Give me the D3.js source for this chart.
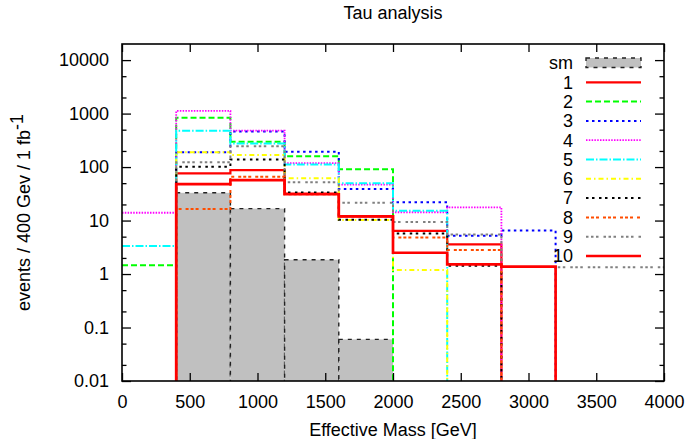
<!DOCTYPE html>
<html lang="en">
  <head>
    <meta charset="UTF-8">
    <title>Tau analysis</title>
    <script src="https://cdn.jsdelivr.net/npm/d3@7"></script>
    <style>
      body { margin: 0; background: #fff; }
      svg text { font-family: "Liberation Sans", Arial, sans-serif; font-size: 18px; fill: #000; }
      .axis line { stroke: #000; stroke-width: 1.3; }
      .axis path { display: none; }
    </style>
  </head>
  <body>
    <svg id="chart" width="691" height="439"></svg>

    <script>
      // bin edges (GeV) and events per bin
      var binEdges = [0, 400, 800, 1200, 1600, 2000, 2400, 2800, 3200, 3600, 4000];

      var sm  = [0, 33, 16.7, 1.85, 0.06, 0, 0, 0, 0, 0];
      var s1  = [0, 76, 88, 32, 12, 6.4, 3.6, 0, 0, 0];
      var s2  = [1.46, 835, 298, 160, 91, 0, 0, 0, 0, 0];
      var s3  = [0, 190, 460, 194, 39, 22, 5.2, 6.5, 0, 0];
      var s4  = [14, 1119, 480, 118, 47, 14.3, 17.7, 0, 0, 0];
      var s5  = [3.34, 480, 275, 112, 50, 15.3, 0, 0, 0, 0];
      var s6  = [0, 190, 168, 62, 10.2, 1.19, 0, 0, 0, 0];
      var s7  = [0, 101, 139, 33.6, 10.3, 5.7, 1.43, 0, 0, 0];
      var s8  = [0, 16.4, 66, 31, 12, 4.8, 2.8, 0, 0, 0];
      var s9  = [0, 123, 245, 52, 21.6, 9.4, 5.5, 1.36, 1.34, 1.34];
      var s10 = [0, 48, 57, 31, 12, 2.5, 1.52, 1.37, 0, 0];

      var seriesNames = ["1", "2", "3", "4", "5", "6", "7", "8", "9", "10"];
      var xTicks = [0, 500, 1000, 1500, 2000, 2500, 3000, 3500, 4000];
      var yTicks = [0.01, 0.1, 1, 10, 100, 1000, 10000];
      var yMinor = [0.02, 0.05, 0.2, 0.5, 2, 5, 20, 50, 200, 500, 2000, 5000];

      var series = [s1, s2, s3, s4, s5, s6, s7, s8, s9, s10];
      var styles = [
        { color: "#ff0000", dash: null, w: 2.2 },
        { color: "#00ff00", dash: "6,3", w: 2 },
        { color: "#0000ff", dash: "2.5,3.5", w: 2 },
        { color: "#ff00ff", dash: "1.5,1.3", w: 1.8 },
        { color: "#00ffff", dash: "8,2,1.5,2", w: 2 },
        { color: "#ffff00", dash: "5,3,1.5,3", w: 2 },
        { color: "#000000", dash: "2.5,3.5,2.5,4.5", w: 2 },
        { color: "#ff4d00", dash: "3,2,3,2,3,4", w: 2 },
        { color: "#808080", dash: "2.5,2.5,2.5,2.5,2.5,5", w: 2 },
        { color: "#ff0000", dash: null, w: 2.7 }
      ];

      var svg = d3.select("#chart");
      var pLeft = 122, pRight = 664, pTop = 44, pBottom = 381;

      var x = d3.scaleLinear().domain([0, 4000]).range([pLeft, pRight]);
      var y = d3.scaleLog().domain([0.01, 20000]).range([pBottom, pTop]);

      svg.append("defs").append("clipPath").attr("id", "plot")
        .append("rect")
        .attr("x", pLeft).attr("y", pTop)
        .attr("width", pRight - pLeft).attr("height", pBottom - pTop);

      var plot = svg.append("g").attr("clip-path", "url(#plot)");

      // sm histogram as filled boxes
      plot.selectAll(".sm")
        .data(sm.map(function(v, i) { return { v: v, i: i }; }).filter(function(d) { return d.v > 0; }))
        .enter().append("rect")
        .attr("class", "sm")
        .attr("x", function(d) { return x(binEdges[d.i]); })
        .attr("width", function(d) { return x(binEdges[d.i + 1]) - x(binEdges[d.i]); })
        .attr("y", function(d) { return y(d.v); })
        .attr("height", function(d) { return pBottom + 5 - y(d.v); })
        .attr("fill", "#c0c0c0")
        .attr("stroke", "#222")
        .attr("stroke-width", 1.4)
        .attr("stroke-dasharray", "4,5");

      // step lines, empty bins go below the axis
      var low = 0.001;
      function stepPoints(vals) {
        var pts = [];
        vals.forEach(function(v, i) {
          var vv = v > 0 ? v : low;
          pts.push([binEdges[i], vv], [binEdges[i + 1], vv]);
        });
        return pts;
      }

      var line = d3.line()
        .x(function(d) { return x(d[0]); })
        .y(function(d) { return y(d[1]); });

      series.forEach(function(vals, k) {
        plot.append("path")
          .attr("d", line(stepPoints(vals)))
          .attr("fill", "none")
          .attr("stroke", styles[k].color)
          .attr("stroke-width", styles[k].w)
          .attr("stroke-dasharray", styles[k].dash);
      });

      // axes, ticks pointing inward
      var fmt = function(d) { return d < 1 ? String(d) : d3.format("d")(d); };

      svg.append("g").attr("class", "axis")
        .attr("transform", "translate(" + pLeft + ",0)")
        .call(d3.axisLeft(y).tickValues(yTicks).tickFormat(fmt).tickSize(-9).tickPadding(13));
      svg.append("g").attr("class", "axis")
        .attr("transform", "translate(" + pLeft + ",0)")
        .call(d3.axisLeft(y).tickValues(yMinor).tickFormat("").tickSize(-4.5));
      svg.append("g").attr("class", "axis")
        .attr("transform", "translate(" + pRight + ",0)")
        .call(d3.axisRight(y).tickValues(yTicks).tickFormat("").tickSize(-9));
      svg.append("g").attr("class", "axis")
        .attr("transform", "translate(" + pRight + ",0)")
        .call(d3.axisRight(y).tickValues(yMinor).tickFormat("").tickSize(-4.5));
      svg.append("g").attr("class", "axis")
        .attr("transform", "translate(0," + pBottom + ")")
        .call(d3.axisBottom(x).tickValues(xTicks).tickFormat(d3.format("d")).tickSize(-8).tickPadding(14));
      svg.append("g").attr("class", "axis")
        .attr("transform", "translate(0," + pTop + ")")
        .call(d3.axisTop(x).tickValues(xTicks).tickFormat("").tickSize(-8));

      svg.selectAll(".axis text").attr("fill", "#000").style("font-size", "18px")
        .style("font-family", '"Liberation Sans", Arial, sans-serif');

      svg.append("rect")
        .attr("x", pLeft).attr("y", pTop)
        .attr("width", pRight - pLeft).attr("height", pBottom - pTop)
        .attr("fill", "none").attr("stroke", "#000").attr("stroke-width", 1.6);

      // titles
      svg.append("text")
        .attr("x", (pLeft + pRight) / 2).attr("y", 19)
        .attr("text-anchor", "middle")
        .text("Tau analysis");

      svg.append("text")
        .attr("x", (pLeft + pRight) / 2).attr("y", 436)
        .attr("text-anchor", "middle")
        .text("Effective Mass [GeV]");

      var ylab = svg.append("text")
        .attr("transform", "translate(30," + ((pTop + pBottom) / 2) + ") rotate(-90)")
        .attr("text-anchor", "middle");
      ylab.append("tspan").text("events / 400 Gev / 1 fb");
      ylab.append("tspan").attr("dy", -7).text("-1");

      // legend
      var legX = 573, legY = 63, legStep = 19.3;
      var leg = svg.append("g");

      leg.append("text").attr("x", legX).attr("y", legY).attr("dy", "0.35em")
        .attr("text-anchor", "end").text("sm");
      leg.append("rect")
        .attr("x", 586).attr("y", legY - 5).attr("width", 55).attr("height", 9.5)
        .attr("fill", "#c0c0c0").attr("stroke", "#222").attr("stroke-width", 1.4)
        .attr("stroke-dasharray", "4,5");

      seriesNames.forEach(function(name, k) {
        var ry = legY + (k + 1) * legStep;
        leg.append("text").attr("x", legX).attr("y", ry).attr("dy", "0.35em")
          .attr("text-anchor", "end").text(name);
        leg.append("line")
          .attr("x1", 586).attr("x2", 641).attr("y1", ry).attr("y2", ry)
          .attr("stroke", styles[k].color)
          .attr("stroke-width", styles[k].w)
          .attr("stroke-dasharray", styles[k].dash);
      });
    </script>
  </body>
</html>
